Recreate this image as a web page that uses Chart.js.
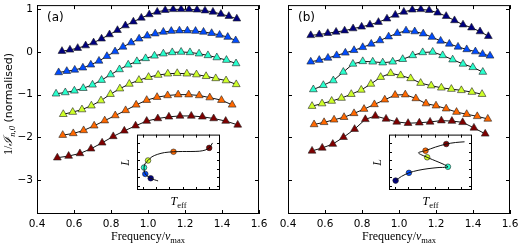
<!DOCTYPE html>
<html>
<head>
<meta charset="utf-8">
<script src="https://cdn.jsdelivr.net/npm/chart.js@4.4.0/dist/chart.umd.min.js"></script>
<style>
  html, body { margin: 0; padding: 0; background: #fff; }
  body { width: 520px; height: 245px; position: relative; overflow: hidden; }
  canvas { position: absolute; }
</style>
</head>
<body>
<canvas id="chartA" width="272" height="245" style="left:0;top:0"></canvas>
<canvas id="chartB" width="248" height="245" style="left:272px;top:0"></canvas>
<canvas id="insetA" width="105" height="82" style="left:120px;top:130px"></canvas>
<canvas id="insetB" width="105" height="82" style="left:372px;top:130px"></canvas>
<script>
// jet colours, one per model
const seriesColors = ['#00007f', '#004cff', '#29ffce', '#ceff29', '#ff6800', '#7f0000'];

const xTicks = [0.4, 0.6, 0.8, 1.0, 1.2, 1.4, 1.6];
const yTicks = [-3, -2, -1, 0, 1];

// panel (a)
const xA1 = [0.535,0.578,0.620,0.663,0.706,0.749,0.792,0.835,0.878,0.921,0.964,1.007,1.050,1.093,1.136,1.179,1.222,1.265,1.308,1.351,1.394,1.437,1.480];
const yA1 = [0.02,0.05,0.09,0.15,0.22,0.31,0.41,0.51,0.62,0.71,0.80,0.88,0.94,0.98,1.00,1.00,1.00,0.99,0.97,0.94,0.89,0.84,0.78];
const xA2 = [0.517,0.561,0.604,0.648,0.691,0.735,0.778,0.822,0.865,0.909,0.952,0.996,1.039,1.083,1.126,1.170,1.213,1.257,1.300,1.344,1.387,1.431,1.474];
const yA2 = [-0.48,-0.45,-0.42,-0.37,-0.30,-0.21,-0.10,0.01,0.12,0.22,0.31,0.38,0.43,0.47,0.49,0.50,0.50,0.49,0.47,0.44,0.40,0.35,0.27];
const xA3 = [0.503,0.553,0.602,0.650,0.700,0.749,0.798,0.846,0.893,0.940,0.987,1.035,1.083,1.131,1.179,1.227,1.276,1.324,1.372,1.424,1.476];
const yA3 = [-0.98,-0.95,-0.91,-0.85,-0.77,-0.66,-0.53,-0.41,-0.30,-0.22,-0.15,-0.09,-0.04,-0.01,0.00,-0.01,-0.04,-0.08,-0.13,-0.19,-0.27];
const xA4 = [0.542,0.593,0.643,0.694,0.746,0.797,0.848,0.899,0.951,1.003,1.055,1.107,1.158,1.210,1.262,1.314,1.366,1.422,1.477];
const yA4 = [-1.46,-1.41,-1.35,-1.26,-1.14,-0.99,-0.86,-0.75,-0.66,-0.59,-0.54,-0.51,-0.50,-0.51,-0.53,-0.57,-0.62,-0.67,-0.76];
const xA5 = [0.539,0.596,0.652,0.709,0.766,0.823,0.879,0.936,0.993,1.049,1.106,1.163,1.220,1.277,1.334,1.397,1.455];
const yA5 = [-1.95,-1.91,-1.84,-1.73,-1.61,-1.49,-1.37,-1.24,-1.13,-1.06,-1.02,-1.00,-1.00,-1.02,-1.07,-1.13,-1.24];
const xA6 = [0.510,0.571,0.632,0.692,0.752,0.812,0.872,0.933,0.993,1.053,1.113,1.173,1.234,1.294,1.355,1.420,1.485];
const yA6 = [-2.48,-2.44,-2.38,-2.27,-2.13,-1.98,-1.85,-1.73,-1.62,-1.56,-1.52,-1.50,-1.50,-1.52,-1.56,-1.62,-1.71];

// panel (b)
const xB1 = [0.523,0.569,0.615,0.660,0.706,0.752,0.798,0.843,0.889,0.935,0.980,1.026,1.072,1.118,1.163,1.209,1.255,1.300,1.346,1.392,1.438,1.483];
const yB1 = [0.39,0.41,0.44,0.47,0.50,0.55,0.59,0.64,0.70,0.78,0.87,0.94,0.99,1.00,0.98,0.92,0.84,0.74,0.64,0.57,0.48,0.37];
const xB2 = [0.523,0.569,0.616,0.663,0.710,0.757,0.804,0.850,0.897,0.944,0.991,1.038,1.085,1.131,1.178,1.225,1.272,1.319,1.366,1.413,1.452,1.492];
const yB2 = [-0.23,-0.19,-0.14,-0.08,-0.02,0.04,0.11,0.19,0.27,0.36,0.44,0.50,0.48,0.43,0.35,0.26,0.19,0.12,0.06,0.01,-0.05,-0.09];
const xB3 = [0.537,0.591,0.645,0.699,0.751,0.804,0.858,0.912,0.966,1.020,1.074,1.128,1.182,1.236,1.290,1.346,1.399,1.453];
const yB3 = [-0.88,-0.78,-0.67,-0.47,-0.28,-0.22,-0.23,-0.25,-0.23,-0.17,-0.08,-0.01,0.00,-0.08,-0.18,-0.28,-0.36,-0.47];
const xB4 = [0.530,0.584,0.636,0.689,0.742,0.796,0.848,0.901,0.955,1.009,1.063,1.117,1.174,1.229,1.283,1.337,1.394,1.449];
const yB4 = [-1.27,-1.21,-1.15,-1.08,-0.99,-0.89,-0.75,-0.59,-0.50,-0.55,-0.62,-0.73,-0.79,-0.84,-0.87,-0.90,-0.94,-0.99];
const xB5 = [0.541,0.595,0.649,0.703,0.757,0.811,0.867,0.923,0.979,1.034,1.091,1.146,1.200,1.255,1.311,1.366,1.423,1.480];
const yB5 = [-1.70,-1.65,-1.59,-1.53,-1.44,-1.34,-1.23,-1.12,-1.01,-1.00,-1.09,-1.21,-1.26,-1.33,-1.41,-1.46,-1.51,-1.57];
const xB6 = [0.530,0.585,0.642,0.700,0.760,0.818,0.872,0.930,0.988,1.049,1.110,1.168,1.229,1.286,1.344,1.405,1.466];
const yB6 = [-2.32,-2.25,-2.16,-2.00,-1.81,-1.58,-1.50,-1.57,-1.64,-1.67,-1.66,-1.64,-1.61,-1.62,-1.65,-1.78,-1.92];

// HR-diagram insets (arbitrary units 0..1)
const insetTicksX = [0.07, 0.23, 0.39, 0.55, 0.71, 0.87];
const insetTicksY = [0.08, 0.23, 0.38, 0.54, 0.69, 0.84];
const trackAx = [0.254,0.21,0.165,0.125,0.10,0.088,0.085,0.095,0.133,0.18,0.25,0.33,0.44,0.55,0.65,0.75,0.82,0.87,0.91];
const trackAy = [0.164,0.185,0.212,0.25,0.29,0.345,0.406,0.47,0.533,0.60,0.645,0.675,0.69,0.695,0.695,0.70,0.72,0.76,0.85];
const modelAx = [0.165, 0.10, 0.085, 0.133, 0.44, 0.87];
const modelAy = [0.212, 0.29, 0.406, 0.533, 0.69, 0.76];
const trackBx = [0.08,0.15,0.24,0.35,0.47,0.59,0.71,0.46,0.355,0.44,0.56,0.69,0.80,0.91];
const trackBy = [0.17,0.245,0.31,0.355,0.385,0.405,0.42,0.59,0.67,0.71,0.775,0.83,0.857,0.87];
const modelBx = [0.08, 0.24, 0.71, 0.46, 0.44, 0.69];
const modelBy = [0.17, 0.31, 0.42, 0.59, 0.71, 0.83];

const tickFont = { family: 'DejaVu Sans', size: 10.5 };

function drawRuns(ctx, runs, cx, cy, angle) {
    ctx.save();
    ctx.translate(cx, cy);
    ctx.rotate(angle);
    let total = 0;
    runs.forEach(r => { ctx.font = r.font; r.w = ctx.measureText(r.text).width; total += r.w; });
    let x = -total / 2;
    ctx.fillStyle = '#000';
    ctx.textAlign = 'left';
    ctx.textBaseline = 'alphabetic';
    runs.forEach(r => { ctx.font = r.font; ctx.fillText(r.text, x, r.dy || 0); x += r.w; });
    ctx.restore();
}

// frame with inward ticks on all four sides
function drawFrame(chart, xs, ys, len) {
    const { ctx, chartArea: a, scales } = chart;
    ctx.save();
    ctx.strokeStyle = '#000';
    ctx.lineWidth = 1;
    ctx.beginPath();
    xs.forEach(v => {
        const px = Math.round(scales.x.getPixelForValue(v)) + 0.5;
        ctx.moveTo(px, a.bottom); ctx.lineTo(px, a.bottom - len);
        ctx.moveTo(px, a.top); ctx.lineTo(px, a.top + len);
    });
    ys.forEach(v => {
        const py = Math.round(scales.y.getPixelForValue(v)) + 0.5;
        ctx.moveTo(a.left, py); ctx.lineTo(a.left + len, py);
        ctx.moveTo(a.right, py); ctx.lineTo(a.right - len, py);
    });
    ctx.stroke();
    ctx.strokeRect(a.left + 0.5, a.top + 0.5, a.width - 1, a.height - 1);
    ctx.restore();
}

const panelText = {
    id: 'panelText',
    afterDraw(chart, args, o) {
        drawFrame(chart, xTicks, yTicks, 4);
        const { ctx, chartArea: a } = chart;
        ctx.save();
        ctx.fillStyle = '#000';
        ctx.font = '12px "DejaVu Sans"';
        ctx.textBaseline = 'middle';
        ctx.fillText(o.label, a.left + 10, a.top + 12.5);
        ctx.restore();
        drawRuns(ctx, [
            { text: 'Frequency/', font: '12px "Liberation Serif"' },
            { text: 'ν', font: 'italic 12px "Liberation Serif"' },
            { text: 'max', font: '8.5px "Liberation Serif"', dy: 3 }
        ], (a.left + a.right) / 2, 239.5, 0);
        if (o.yTitle) {
            drawRuns(ctx, [
                { text: '1/', font: '12px "Liberation Serif"' },
                { text: 'ℐ', font: 'italic 12px "DejaVu Serif"' },
                { text: 'n,0', font: 'italic 8.5px "Liberation Serif"', dy: 3 },
                { text: ' (normalised)', font: '11px "DejaVu Sans"' }
            ], 12, 104, -Math.PI / 2);
        }
    }
};

const insetText = {
    id: 'insetText',
    beforeDatasetsDraw(chart) {
        const { ctx, chartArea: a } = chart;
        ctx.save();
        ctx.fillStyle = '#fff';
        ctx.fillRect(a.left, a.top, a.width, a.height);
        ctx.restore();
    },
    afterDraw(chart) {
        drawFrame(chart, insetTicksX, insetTicksY, 3);
        const { ctx, chartArea: a } = chart;
        drawRuns(ctx, [{ text: 'L', font: 'italic 12px "Liberation Serif"' }],
            a.left - 8, (a.top + a.bottom) / 2, -Math.PI / 2);
        drawRuns(ctx, [
            { text: 'T', font: 'italic 12px "Liberation Serif"' },
            { text: 'eff', font: '8.5px "Liberation Serif"', dy: 3 }
        ], (a.left + a.right) / 2, a.bottom + 15, 0);
    }
};

function noPad(s) {
    s.paddingTop = 0; s.paddingBottom = 0; s.paddingLeft = 0; s.paddingRight = 0;
}

function makePanel(id, xs, ys, label, showY, pad, yWidth) {
    const datasets = xs.map((xv, i) => ({
        data: xv.map((v, j) => ({ x: v, y: ys[i][j] })),
        borderColor: '#111',
        borderWidth: 1,
        tension: 0,
        pointStyle: 'triangle',
        pointRadius: 4.5,
        pointBackgroundColor: seriesColors[i],
        pointBorderColor: '#222',
        pointBorderWidth: 0.6
    }));
    new Chart(document.getElementById(id), {
        type: 'line',
        data: { datasets },
        options: {
            responsive: false,
            animation: false,
            events: [],
            layout: { padding: pad },
            plugins: {
                legend: { display: false },
                tooltip: { enabled: false },
                panelText: { label: label, yTitle: showY }
            },
            scales: {
                x: {
                    type: 'linear', min: 0.4, max: 1.6,
                    afterBuildTicks: s => { s.ticks = xTicks.map(v => ({ value: v })); },
                    afterFit: s => { s.height = 31; noPad(s); },
                    grid: { display: false, drawTicks: false },
                    border: { display: false },
                    ticks: { font: tickFont, color: '#000', padding: 4, autoSkip: false, maxRotation: 0,
                        callback: v => v.toFixed(1) }
                },
                y: {
                    type: 'linear', min: -3.8, max: 1.1,
                    afterBuildTicks: s => { s.ticks = yTicks.map(v => ({ value: v })); },
                    afterFit: s => { s.width = yWidth; noPad(s); },
                    grid: { display: false, drawTicks: false },
                    border: { display: false },
                    ticks: { display: showY, font: tickFont, color: '#000', padding: 4,
                        callback: v => v < 0 ? '\u2212' + Math.abs(v) : String(v) }
                }
            }
        },
        plugins: [panelText]
    });
}

function makeInset(id, tx, ty, mx, my) {
    new Chart(document.getElementById(id), {
        type: 'scatter',
        data: {
            datasets: [
                {
                    type: 'line',
                    data: tx.map((v, i) => ({ x: v, y: ty[i] })),
                    borderColor: '#111', borderWidth: 1, pointRadius: 0, tension: 0.3
                },
                {
                    data: mx.map((v, i) => ({ x: v, y: my[i] })),
                    pointRadius: 2.8,
                    pointBackgroundColor: seriesColors,
                    pointBorderColor: '#222',
                    pointBorderWidth: 0.6
                }
            ]
        },
        options: {
            responsive: false,
            animation: false,
            events: [],
            layout: { padding: { left: 17, top: 4, right: 5, bottom: 22 } },
            plugins: { legend: { display: false }, tooltip: { enabled: false } },
            scales: {
                x: { type: 'linear', min: 0, max: 1, display: false },
                y: { type: 'linear', min: 0, max: 1, display: false }
            }
        },
        plugins: [insetText]
    });
}

makePanel('chartA', [xA1, xA2, xA3, xA4, xA5, xA6], [yA1, yA2, yA3, yA4, yA5, yA6], '(a)', true,
    { left: 0, right: 13, top: 2, bottom: 0 }, 37);
makePanel('chartB', [xB1, xB2, xB3, xB4, xB5, xB6], [yB1, yB2, yB3, yB4, yB5, yB6], '(b)', false,
    { left: 0, right: 10, top: 2, bottom: 0 }, 16);
makeInset('insetA', trackAx, trackAy, modelAx, modelAy);
makeInset('insetB', trackBx, trackBy, modelBx, modelBy);
</script>
</body>
</html>
